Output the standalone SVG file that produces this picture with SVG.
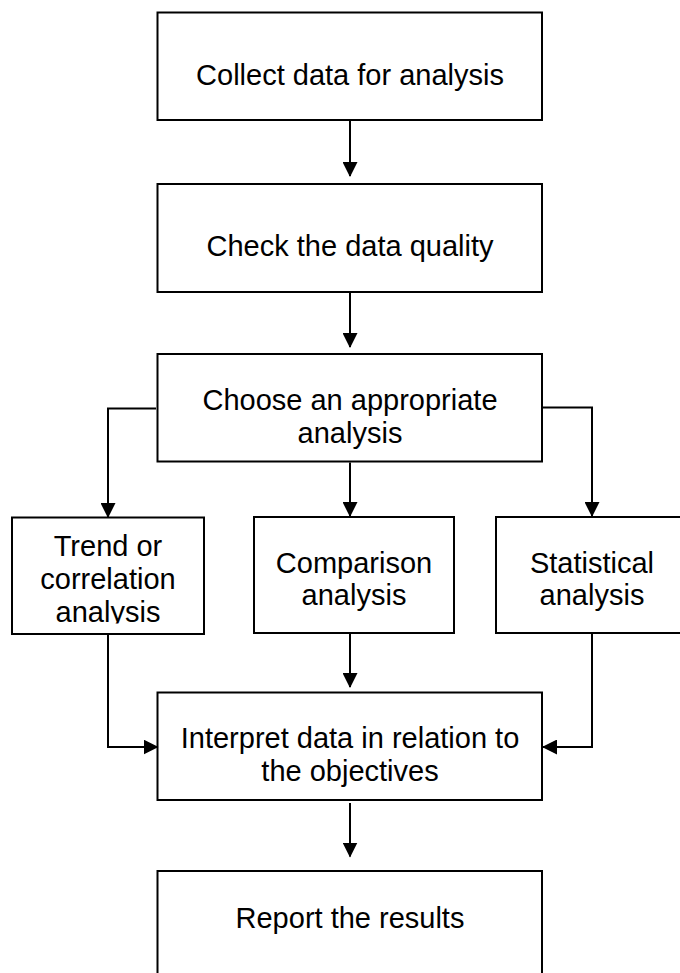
<svg xmlns="http://www.w3.org/2000/svg" width="680" height="973" viewBox="0 0 680 973">
<style>
.box{fill:#fff;stroke:#000;stroke-width:2}
.lbl{font-family:"Liberation Sans",Arial,Helvetica,sans-serif;font-size:29px;fill:#000;text-anchor:middle}
.con{fill:none;stroke:#000;stroke-width:2}
</style>
<defs>
<marker id="ah" markerUnits="userSpaceOnUse" markerWidth="15" markerHeight="15" viewBox="0 0 15 15" refX="14" refY="7.5" orient="auto">
<path d="M0,0 L15,7.5 L0,15 z" fill="#000"/>
</marker>
<clipPath id="clip4"><rect x="0" y="500" width="220" height="123.5"/></clipPath>
</defs>
<g id="n1"><rect class="box" x="157.5" y="12.5" width="384.5" height="107.5"/><text class="lbl" x="350" y="85">Collect data for analysis</text></g>
<g id="n2"><rect class="box" x="157.5" y="184" width="384.5" height="108"/><text class="lbl" x="350" y="256">Check the data quality</text></g>
<g id="n3"><rect class="box" x="157.5" y="354" width="384.5" height="107.5"/><text class="lbl" x="350" y="410">Choose an appropriate</text><text class="lbl" x="350" y="443">analysis</text></g>
<g id="n4"><rect class="box" x="12" y="517.5" width="192" height="116.5"/><g clip-path="url(#clip4)"><text class="lbl" x="108" y="556">Trend or</text><text class="lbl" x="108" y="589">correlation</text><text class="lbl" x="108" y="622">analysis</text></g></g>
<g id="n5"><rect class="box" x="254" y="517" width="200" height="116"/><text class="lbl" x="354" y="573">Comparison</text><text class="lbl" x="354" y="605">analysis</text></g>
<g id="n6"><rect class="box" x="496" y="517" width="192" height="116"/><text class="lbl" x="592" y="573">Statistical</text><text class="lbl" x="592" y="605">analysis</text></g>
<g id="n7"><rect class="box" x="157.5" y="692.5" width="384.5" height="107.5"/><text class="lbl" x="350" y="748">Interpret data in relation to</text><text class="lbl" x="350" y="781">the objectives</text></g>
<g id="n8"><rect class="box" x="157.5" y="871" width="384.5" height="115"/><text class="lbl" x="350" y="928">Report the results</text></g>
<g id="connectors">
<path class="con" d="M350,121 V176" marker-end="url(#ah)"/>
<path class="con" d="M350,293 V347" marker-end="url(#ah)"/>
<path class="con" d="M156,408.5 H108 V517" marker-end="url(#ah)"/>
<path class="con" d="M350,462.5 V516" marker-end="url(#ah)"/>
<path class="con" d="M543,407.5 H592 V516" marker-end="url(#ah)"/>
<path class="con" d="M108,635 V747 H157.5" marker-end="url(#ah)"/>
<path class="con" d="M350,634 V687" marker-end="url(#ah)"/>
<path class="con" d="M592,634 V747 H543" marker-end="url(#ah)"/>
<path class="con" d="M350,803 V856.5" marker-end="url(#ah)"/>
</g>
</svg>
